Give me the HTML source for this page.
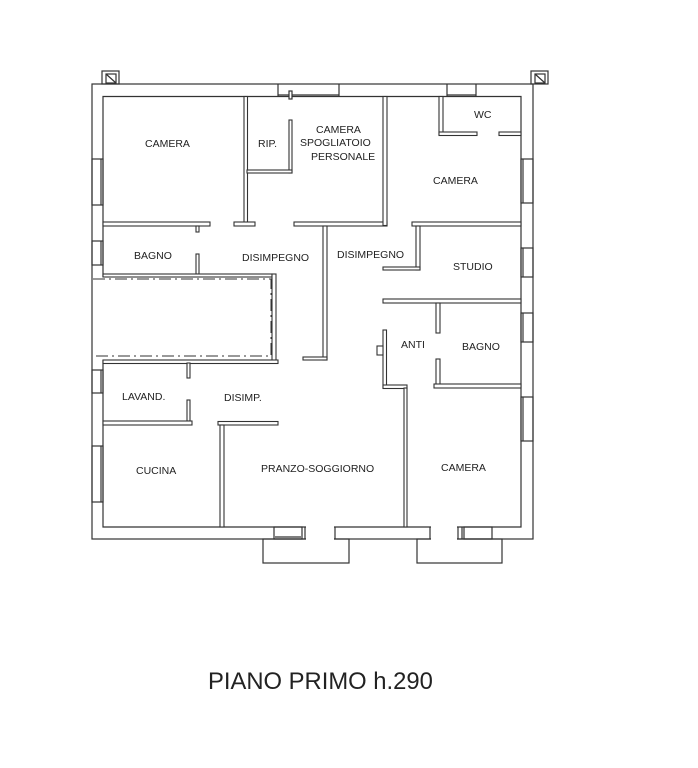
<!DOCTYPE html>
<html><head><meta charset="utf-8"><style>
html,body{margin:0;padding:0;background:#fff;}
svg{display:block;}
text{font-family:"Liberation Sans",sans-serif;fill:#222;}
</style></head><body>
<svg width="698" height="768" viewBox="0 0 698 768" xmlns="http://www.w3.org/2000/svg">
<g fill="none" stroke="#333" stroke-width="1.2">
<!-- outer shell -->
<rect x="92" y="84" width="441" height="455"/>
<path d="M103 277 V96.5 H521 V527 H103 V360"/>
<!-- corner markers -->
<rect x="102" y="71" width="17" height="13"/>
<rect x="106" y="74" width="10" height="9"/>
<line x1="106" y1="74" x2="116" y2="83"/>
<rect x="531" y="71" width="17" height="13"/>
<rect x="535" y="74" width="10" height="9"/>
<line x1="535" y1="74" x2="545" y2="83"/>
<!-- top windows -->
<line x1="278" y1="84" x2="278" y2="96"/><line x1="339" y1="84" x2="339" y2="96"/>
<line x1="278" y1="95" x2="339" y2="95"/>
<rect x="289" y="91" width="3" height="8" fill="#fff"/>
<line x1="447" y1="84" x2="447" y2="96"/><line x1="476" y1="84" x2="476" y2="96"/>
<line x1="447" y1="95" x2="476" y2="95"/>
<!-- left windows -->
<rect x="92" y="159" width="11" height="46"/><line x1="101" y1="159" x2="101" y2="205"/>
<rect x="92" y="241" width="11" height="24"/><line x1="101" y1="241" x2="101" y2="265"/>
<rect x="92" y="370" width="11" height="23"/><line x1="101" y1="370" x2="101" y2="393"/>
<rect x="92" y="446" width="11" height="56"/><line x1="101" y1="446" x2="101" y2="502"/>
<!-- right windows -->
<rect x="521" y="159" width="12" height="44"/><line x1="523" y1="159" x2="523" y2="203"/>
<rect x="521" y="248" width="12" height="29"/><line x1="523" y1="248" x2="523" y2="277"/>
<rect x="521" y="313" width="12" height="29"/><line x1="523" y1="313" x2="523" y2="342"/>
<rect x="521" y="397" width="12" height="44"/><line x1="523" y1="397" x2="523" y2="441"/>
<!-- bottom openings / windows -->
<rect x="263" y="539" width="86" height="24"/>
<rect x="417" y="539" width="85" height="24"/>
<rect x="274" y="527" width="28" height="12"/><line x1="275" y1="537" x2="301" y2="537"/>
<line x1="305" y1="527" x2="305" y2="539"/><line x1="335" y1="527" x2="335" y2="539"/>
<rect x="464" y="527" width="28" height="12"/>
<line x1="430" y1="527" x2="430" y2="539"/><line x1="458" y1="527" x2="458" y2="539"/><line x1="462" y1="527" x2="462" y2="539"/>
</g>
<g fill="#fff" stroke="none">
<rect x="306" y="538" width="28" height="2"/><rect x="431" y="538" width="26" height="2"/>
<rect x="306" y="526" width="28" height="2"/><rect x="431" y="526" width="26" height="2"/>
</g>
<!-- interior walls -->
<g fill="#fff" stroke="#333" stroke-width="1.1">
<rect x="244" y="96.5" width="3.5" height="128"/>
<rect x="103" y="222" width="107" height="4"/>
<rect x="234" y="222" width="21" height="4"/>
<rect x="294" y="222" width="93" height="4"/>
<rect x="289" y="120" width="3" height="53"/>
<rect x="247" y="170" width="45" height="3"/>
<rect x="383" y="96.5" width="4" height="129"/>
<rect x="196" y="226" width="3" height="6"/>
<rect x="196" y="254" width="3" height="20"/>
<rect x="103" y="274" width="169" height="3"/>
<rect x="272" y="274" width="4" height="87"/>
<rect x="323" y="226" width="4" height="134"/>
<rect x="303" y="357" width="24" height="3"/>
<rect x="439" y="96.5" width="4" height="38"/>
<rect x="439" y="132" width="38" height="3.5"/>
<rect x="499" y="132" width="22" height="3.5"/>
<rect x="412" y="222" width="109" height="4"/>
<rect x="416" y="226" width="4" height="44"/>
<rect x="383" y="267" width="37" height="3"/>
<rect x="383" y="299" width="138" height="4"/>
<rect x="436" y="303" width="4" height="30"/>
<rect x="383" y="330" width="3.5" height="58"/>
<rect x="377" y="346" width="6" height="9"/>
<rect x="383" y="385" width="24" height="3.5"/>
<rect x="404" y="388" width="3" height="139"/>
<rect x="436" y="359" width="4" height="26"/>
<rect x="434" y="384" width="87" height="4"/>
<rect x="103" y="360" width="175" height="3.5"/>
<rect x="187" y="363" width="3" height="15"/>
<rect x="187" y="400" width="3" height="21"/>
<rect x="103" y="421" width="89" height="4"/>
<rect x="218" y="421.5" width="60" height="3.5"/>
<rect x="220" y="425" width="4" height="102"/>
</g>
<!-- dash-dot rectangle -->
<path d="M93 279 H271 V356 H93" fill="none" stroke="#333" stroke-width="1" stroke-dasharray="12,4,2,4"/>
<!-- labels -->
<g font-size="10.5">
<text x="145" y="147">CAMERA</text>
<text x="258" y="147">RIP.</text>
<text x="316" y="133">CAMERA</text>
<text x="300" y="146">SPOGLIATOIO</text>
<text x="311" y="160">PERSONALE</text>
<text x="474" y="118">WC</text>
<text x="433" y="184">CAMERA</text>
<text x="134" y="259">BAGNO</text>
<text x="242" y="261">DISIMPEGNO</text>
<text x="337" y="258">DISIMPEGNO</text>
<text x="453" y="270">STUDIO</text>
<text x="401" y="348">ANTI</text>
<text x="462" y="350">BAGNO</text>
<text x="122" y="400">LAVAND.</text>
<text x="224" y="401">DISIMP.</text>
<text x="136" y="474">CUCINA</text>
<text x="261" y="472">PRANZO-SOGGIORNO</text>
<text x="441" y="471">CAMERA</text>
</g>
<text x="208" y="689" font-size="23.8">PIANO PRIMO h.290</text>
</svg>
</body></html>
